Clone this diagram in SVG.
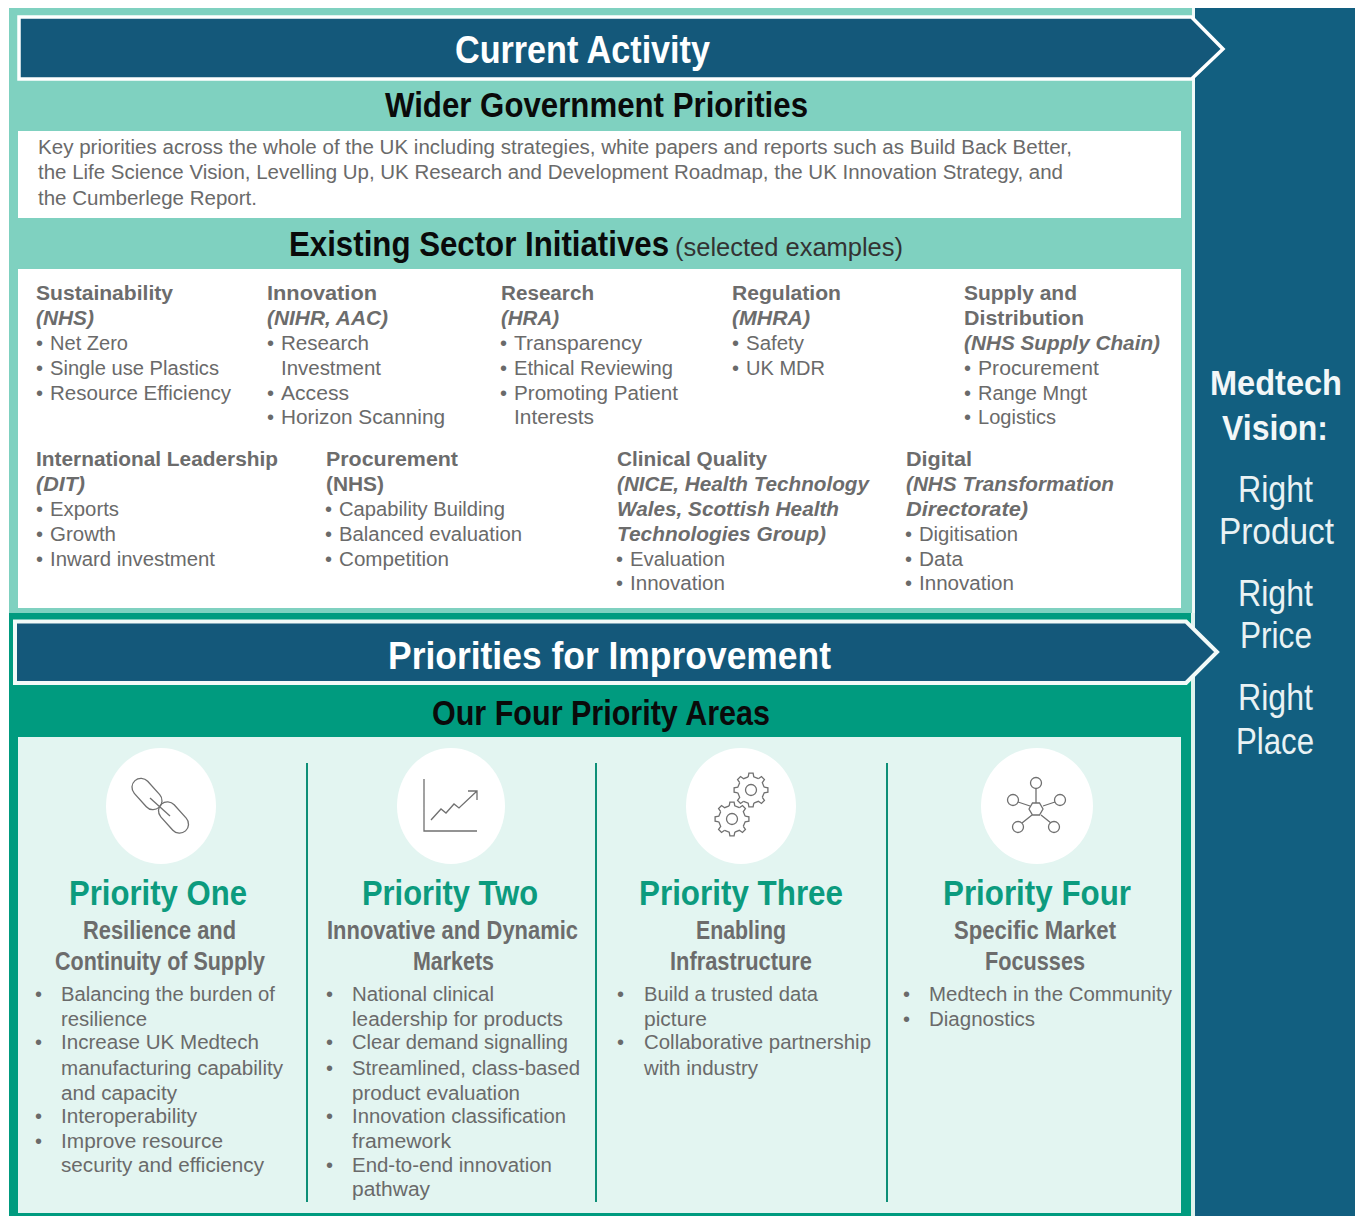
<svg xmlns="http://www.w3.org/2000/svg" xmlns:xlink="http://www.w3.org/1999/xlink" width="1356" height="1216" viewBox="0 0 1356 1216">
<style>
text{font-family:"Liberation Sans",Arial,sans-serif}
.banner{font-size:38.500px;font-weight:700;fill:#fff;text-anchor:start}
.h2{font-size:35.500px;font-weight:700;fill:#0a0a0a}
.sub{font-size:26px;font-weight:400;fill:#333}
.b{font-size:20px;fill:#6a6a6a}
.sh{font-size:20px;font-weight:700;fill:#6c6c6c}
.si{font-size:20px;font-weight:700;font-style:italic;fill:#6c6c6c}
.pt{font-size:35px;font-weight:700;fill:#0c9b7e}
.ps{font-size:26px;font-weight:700;fill:#6c6c6c}
.vb{font-size:35px;font-weight:700;fill:#f2f7f8}
.v{font-size:36px;fill:#e9f2f4}
.ic{fill:none;stroke:#707070;stroke-width:1.300}
.div{stroke:#0e8f78;stroke-width:2}
.circ{fill:#fff}
</style>
<defs>
<g id="gear" class="ic">
<g id="gq"><path id="gt" d="M13.2-2.8L16.900-2.100V2.100L13.2 2.800L11.300 7.350"/><use xlink:href="#gt" transform="rotate(45)"/><use xlink:href="#gt" transform="rotate(90)"/><use xlink:href="#gt" transform="rotate(135)"/></g>
<use xlink:href="#gq" transform="rotate(180)"/>
<circle r="5.500"/>
</g>
</defs>
<rect x="9" y="8" width="1186" height="605" fill="#7fd1c0"/>
<rect x="9" y="613" width="1182" height="603" fill="#009b7f"/>
<rect x="1195" y="8" width="160" height="1208" fill="#125f80"/>
<rect x="1192" y="8" width="3" height="605" fill="#f1faf8"/>
<rect x="1191" y="613" width="4" height="603" fill="#dff3ee"/>

<g id="current-activity">
<path d="M19 17H1191.500L1223 49L1191.500 79H19Z" fill="#14587a" stroke="#fff" stroke-width="3.500"/>
<text class="banner" x="455" y="63" textLength="255" lengthAdjust="spacingAndGlyphs">Current Activity</text>
</g>
<g id="wider-government">
<text class="h2" x="385" y="117" textLength="423" lengthAdjust="spacingAndGlyphs">Wider Government Priorities</text>
<rect x="18" y="131" width="1163" height="87" fill="#fff"/>
<text class="b" x="38" y="154" textLength="1034" lengthAdjust="spacingAndGlyphs">Key priorities across the whole of the UK including strategies, white papers and reports such as Build Back Better,</text>
<text class="b" x="38" y="179" textLength="1025" lengthAdjust="spacingAndGlyphs">the Life Science Vision,  Levelling Up, UK Research and Development Roadmap, the UK Innovation Strategy, and</text>
<text class="b" x="38" y="205" textLength="219" lengthAdjust="spacingAndGlyphs">the Cumberlege Report.</text>
</g>
<g id="sector-initiatives">
<text class="h2" transform="translate(289 256) scale(.88 1)">Existing Sector Initiatives</text>
<text class="sub" x="675" y="256" textLength="228" lengthAdjust="spacingAndGlyphs">(selected examples)</text>
<rect x="18" y="269" width="1163" height="339" fill="#fff"/>
</g>
<g id="sustainability">
<text class="sh" x="36" y="300" textLength="137" lengthAdjust="spacingAndGlyphs">Sustainability</text>
<text class="si" x="36" y="325" textLength="58" lengthAdjust="spacingAndGlyphs">(NHS)</text>
<text class="b" x="36" y="350">•</text><text class="b" x="50" y="350" textLength="78" lengthAdjust="spacingAndGlyphs">Net Zero</text>
<text class="b" x="36" y="375">•</text><text class="b" x="50" y="375" textLength="169" lengthAdjust="spacingAndGlyphs">Single use Plastics</text>
<text class="b" x="36" y="400">•</text><text class="b" x="50" y="400" textLength="181" lengthAdjust="spacingAndGlyphs">Resource Efficiency</text>
</g>
<g id="innovation">
<text class="sh" x="267" y="300" textLength="110" lengthAdjust="spacingAndGlyphs">Innovation</text>
<text class="si" x="267" y="325" textLength="121" lengthAdjust="spacingAndGlyphs">(NIHR, AAC)</text>
<text class="b" x="267" y="350">•</text><text class="b" x="281" y="350" textLength="88" lengthAdjust="spacingAndGlyphs">Research</text>
<text class="b" x="281" y="375" textLength="100" lengthAdjust="spacingAndGlyphs">Investment</text>
<text class="b" x="267" y="400">•</text><text class="b" x="281" y="400" textLength="68" lengthAdjust="spacingAndGlyphs">Access</text>
<text class="b" x="267" y="424">•</text><text class="b" x="281" y="424" textLength="164" lengthAdjust="spacingAndGlyphs">Horizon Scanning</text>
</g>
<g id="research">
<text class="sh" x="501" y="300" textLength="93" lengthAdjust="spacingAndGlyphs">Research</text>
<text class="si" x="501" y="325" textLength="58" lengthAdjust="spacingAndGlyphs">(HRA)</text>
<text class="b" x="500" y="350">•</text><text class="b" x="514" y="350" textLength="128" lengthAdjust="spacingAndGlyphs">Transparency</text>
<text class="b" x="500" y="375">•</text><text class="b" x="514" y="375" textLength="159" lengthAdjust="spacingAndGlyphs">Ethical Reviewing</text>
<text class="b" x="500" y="400">•</text><text class="b" x="514" y="400" textLength="164" lengthAdjust="spacingAndGlyphs">Promoting Patient</text>
<text class="b" x="514" y="424" textLength="80" lengthAdjust="spacingAndGlyphs">Interests</text>
</g>
<g id="regulation">
<text class="sh" x="732" y="300" textLength="109" lengthAdjust="spacingAndGlyphs">Regulation</text>
<text class="si" x="732" y="325" textLength="78" lengthAdjust="spacingAndGlyphs">(MHRA)</text>
<text class="b" x="732" y="350">•</text><text class="b" x="746" y="350" textLength="58" lengthAdjust="spacingAndGlyphs">Safety</text>
<text class="b" x="732" y="375">•</text><text class="b" x="746" y="375" textLength="79" lengthAdjust="spacingAndGlyphs">UK MDR</text>
</g>
<g id="supply-distribution">
<text class="sh" x="964" y="300" textLength="113" lengthAdjust="spacingAndGlyphs">Supply and</text>
<text class="sh" x="964" y="325" textLength="120" lengthAdjust="spacingAndGlyphs">Distribution</text>
<text class="si" x="964" y="350" textLength="196" lengthAdjust="spacingAndGlyphs">(NHS Supply Chain)</text>
<text class="b" x="964" y="375">•</text><text class="b" x="978" y="375" textLength="121" lengthAdjust="spacingAndGlyphs">Procurement</text>
<text class="b" x="964" y="400">•</text><text class="b" x="978" y="400" textLength="109" lengthAdjust="spacingAndGlyphs">Range Mngt</text>
<text class="b" x="964" y="424">•</text><text class="b" x="978" y="424" textLength="78" lengthAdjust="spacingAndGlyphs">Logistics</text>
</g>
<g id="international-leadership">
<text class="sh" x="36" y="466" textLength="242" lengthAdjust="spacingAndGlyphs">International Leadership</text>
<text class="si" x="36" y="491" textLength="49" lengthAdjust="spacingAndGlyphs">(DIT)</text>
<text class="b" x="36" y="516">•</text><text class="b" x="50" y="516" textLength="69" lengthAdjust="spacingAndGlyphs">Exports</text>
<text class="b" x="36" y="541">•</text><text class="b" x="50" y="541" textLength="66" lengthAdjust="spacingAndGlyphs">Growth</text>
<text class="b" x="36" y="566">•</text><text class="b" x="50" y="566" textLength="165" lengthAdjust="spacingAndGlyphs">Inward investment</text>
</g>
<g id="procurement">
<text class="sh" x="326" y="466" textLength="132" lengthAdjust="spacingAndGlyphs">Procurement</text>
<text class="sh" x="326" y="491" textLength="58" lengthAdjust="spacingAndGlyphs">(NHS)</text>
<text class="b" x="325" y="516">•</text><text class="b" x="339" y="516" textLength="166" lengthAdjust="spacingAndGlyphs">Capability Building</text>
<text class="b" x="325" y="541">•</text><text class="b" x="339" y="541" textLength="183" lengthAdjust="spacingAndGlyphs">Balanced evaluation</text>
<text class="b" x="325" y="566">•</text><text class="b" x="339" y="566" textLength="110" lengthAdjust="spacingAndGlyphs">Competition</text>
</g>
<g id="clinical-quality">
<text class="sh" x="617" y="466" textLength="150" lengthAdjust="spacingAndGlyphs">Clinical Quality</text>
<text class="si" x="617" y="491" textLength="252" lengthAdjust="spacingAndGlyphs">(NICE, Health Technology</text>
<text class="si" x="617" y="516" textLength="222" lengthAdjust="spacingAndGlyphs">Wales, Scottish Health</text>
<text class="si" x="617" y="541" textLength="209" lengthAdjust="spacingAndGlyphs">Technologies Group)</text>
<text class="b" x="616" y="566">•</text><text class="b" x="630" y="566" textLength="95" lengthAdjust="spacingAndGlyphs">Evaluation</text>
<text class="b" x="616" y="590">•</text><text class="b" x="630" y="590" textLength="95" lengthAdjust="spacingAndGlyphs">Innovation</text>
</g>
<g id="digital">
<text class="sh" x="906" y="466" textLength="66" lengthAdjust="spacingAndGlyphs">Digital</text>
<text class="si" x="906" y="491" textLength="208" lengthAdjust="spacingAndGlyphs">(NHS Transformation</text>
<text class="si" x="906" y="516" textLength="122" lengthAdjust="spacingAndGlyphs">Directorate)</text>
<text class="b" x="905" y="541">•</text><text class="b" x="919" y="541" textLength="99" lengthAdjust="spacingAndGlyphs">Digitisation</text>
<text class="b" x="905" y="566">•</text><text class="b" x="919" y="566" textLength="44" lengthAdjust="spacingAndGlyphs">Data</text>
<text class="b" x="905" y="590">•</text><text class="b" x="919" y="590" textLength="95" lengthAdjust="spacingAndGlyphs">Innovation</text>
</g>

<rect x="18" y="737" width="1163" height="476" fill="#e3f5f1"/>
<g id="priorities-banner">
<path d="M15 621.500H1186L1217 652L1186 683H15Z" fill="#14587a" stroke="#f2faf8" stroke-width="4"/>
<text class="banner" x="388" y="669" textLength="443" lengthAdjust="spacingAndGlyphs">Priorities for Improvement</text>
</g>
<g id="four-priority-areas">
<text class="h2" x="432" y="725" textLength="338" lengthAdjust="spacingAndGlyphs">Our Four Priority Areas</text>
</g>
<g id="connectors">
<line class="div" x1="307" y1="763" x2="307" y2="1202"/>
<line class="div" x1="596" y1="763" x2="596" y2="1202"/>
<line class="div" x1="887" y1="763" x2="887" y2="1202"/>
</g>
<g id="priority-one">
<ellipse class="circ" cx="161" cy="806" rx="55" ry="58"/>
<g class="ic"><rect x="-18" y="-9" width="36" height="18" rx="9" transform="translate(147 794) rotate(48)"/><rect x="-18" y="-9" width="36" height="18" rx="9" transform="translate(173.500 817.500) rotate(48)"/><path d="M150 798L170 816"/></g>
<text class="pt" x="69" y="905" textLength="178" lengthAdjust="spacingAndGlyphs">Priority One</text>
<text class="ps" x="83" y="939" textLength="153" lengthAdjust="spacingAndGlyphs">Resilience and</text>
<text class="ps" x="55" y="970" textLength="210" lengthAdjust="spacingAndGlyphs">Continuity of Supply</text>
<text class="b" x="35" y="1001">•</text><text class="b" x="61" y="1001" textLength="214" lengthAdjust="spacingAndGlyphs">Balancing the burden of</text>
<text class="b" x="61" y="1026" textLength="86" lengthAdjust="spacingAndGlyphs">resilience</text>
<text class="b" x="35" y="1049">•</text><text class="b" x="61" y="1049" textLength="198" lengthAdjust="spacingAndGlyphs">Increase UK Medtech</text>
<text class="b" x="61" y="1075" textLength="222" lengthAdjust="spacingAndGlyphs">manufacturing capability</text>
<text class="b" x="61" y="1100" textLength="116" lengthAdjust="spacingAndGlyphs">and capacity</text>
<text class="b" x="35" y="1123">•</text><text class="b" x="61" y="1123" textLength="136" lengthAdjust="spacingAndGlyphs">Interoperability</text>
<text class="b" x="35" y="1148">•</text><text class="b" x="61" y="1148" textLength="162" lengthAdjust="spacingAndGlyphs">Improve resource</text>
<text class="b" x="61" y="1172" textLength="203" lengthAdjust="spacingAndGlyphs">security and efficiency</text>
</g>
<g id="priority-two">
<ellipse class="circ" cx="451" cy="806" rx="54" ry="58"/>
<path class="ic" d="M424 779V831H477M431 820L441 809L446 813L454 804L459 808L477 791M468 791H477V800"/>
<text class="pt" x="362" y="905" textLength="176" lengthAdjust="spacingAndGlyphs">Priority Two</text>
<text class="ps" x="327" y="939" textLength="251" lengthAdjust="spacingAndGlyphs">Innovative and Dynamic</text>
<text class="ps" x="413" y="970" textLength="81" lengthAdjust="spacingAndGlyphs">Markets</text>
<text class="b" x="326" y="1001">•</text><text class="b" x="352" y="1001" textLength="142" lengthAdjust="spacingAndGlyphs">National clinical</text>
<text class="b" x="352" y="1026" textLength="211" lengthAdjust="spacingAndGlyphs">leadership for products</text>
<text class="b" x="326" y="1049">•</text><text class="b" x="352" y="1049" textLength="216" lengthAdjust="spacingAndGlyphs">Clear demand signalling</text>
<text class="b" x="326" y="1075">•</text><text class="b" x="352" y="1075" textLength="228" lengthAdjust="spacingAndGlyphs">Streamlined, class-based</text>
<text class="b" x="352" y="1100" textLength="168" lengthAdjust="spacingAndGlyphs">product evaluation</text>
<text class="b" x="326" y="1123">•</text><text class="b" x="352" y="1123" textLength="214" lengthAdjust="spacingAndGlyphs">Innovation classification</text>
<text class="b" x="352" y="1148" textLength="99" lengthAdjust="spacingAndGlyphs">framework</text>
<text class="b" x="326" y="1172">•</text><text class="b" x="352" y="1172" textLength="200" lengthAdjust="spacingAndGlyphs">End-to-end innovation</text>
<text class="b" x="352" y="1196" textLength="78" lengthAdjust="spacingAndGlyphs">pathway</text>
</g>
<g id="priority-three">
<ellipse class="circ" cx="741" cy="806" rx="55" ry="58"/>
<use xlink:href="#gear" transform="translate(751 790)"/>
<use xlink:href="#gear" transform="translate(732 819)"/>
<text class="pt" x="639" y="905" textLength="204" lengthAdjust="spacingAndGlyphs">Priority Three</text>
<text class="ps" x="696" y="939" textLength="90" lengthAdjust="spacingAndGlyphs">Enabling</text>
<text class="ps" x="670" y="970" textLength="142" lengthAdjust="spacingAndGlyphs">Infrastructure</text>
<text class="b" x="617" y="1001">•</text><text class="b" x="644" y="1001" textLength="174" lengthAdjust="spacingAndGlyphs">Build a trusted data</text>
<text class="b" x="644" y="1026" textLength="63" lengthAdjust="spacingAndGlyphs">picture</text>
<text class="b" x="617" y="1049">•</text><text class="b" x="644" y="1049" textLength="227" lengthAdjust="spacingAndGlyphs">Collaborative partnership</text>
<text class="b" x="644" y="1075" textLength="114" lengthAdjust="spacingAndGlyphs">with industry</text>
</g>
<g id="priority-four">
<ellipse class="circ" cx="1037" cy="806" rx="56" ry="58"/>
<g class="ic"><path d="M1029 809L1032.500 803H1039.500L1043 809L1039.500 815H1032.500ZM1036 803V789M1030 806L1018 802M1043 806L1055 802M1032 815L1022 823M1041 815L1051 823"/><circle cx="1036" cy="783" r="5.500"/><circle cx="1013" cy="800" r="5.500"/><circle cx="1060" cy="800" r="5.500"/><circle cx="1018" cy="827" r="5.500"/><circle cx="1054" cy="827" r="5.500"/></g>
<text class="pt" x="943" y="905" textLength="188" lengthAdjust="spacingAndGlyphs">Priority Four</text>
<text class="ps" x="954" y="939" textLength="162" lengthAdjust="spacingAndGlyphs">Specific Market</text>
<text class="ps" x="985" y="970" textLength="100" lengthAdjust="spacingAndGlyphs">Focusses</text>
<text class="b" x="903" y="1001">•</text><text class="b" x="929" y="1001" textLength="243" lengthAdjust="spacingAndGlyphs">Medtech in the Community</text>
<text class="b" x="903" y="1026">•</text><text class="b" x="929" y="1026" textLength="106" lengthAdjust="spacingAndGlyphs">Diagnostics</text>
</g>
<g id="medtech-vision">
<text class="vb" x="1210" y="395" textLength="132" lengthAdjust="spacingAndGlyphs">Medtech</text>
<text class="vb" x="1222" y="440" textLength="106" lengthAdjust="spacingAndGlyphs">Vision:</text>
<text class="v" x="1238" y="502" textLength="75" lengthAdjust="spacingAndGlyphs">Right</text>
<text class="v" x="1219" y="544" textLength="115" lengthAdjust="spacingAndGlyphs">Product</text>
<text class="v" x="1238" y="606" textLength="75" lengthAdjust="spacingAndGlyphs">Right</text>
<text class="v" x="1240" y="648" textLength="72" lengthAdjust="spacingAndGlyphs">Price</text>
<text class="v" x="1238" y="710" textLength="75" lengthAdjust="spacingAndGlyphs">Right</text>
<text class="v" x="1236" y="754" textLength="78" lengthAdjust="spacingAndGlyphs">Place</text>
</g>
</svg>
